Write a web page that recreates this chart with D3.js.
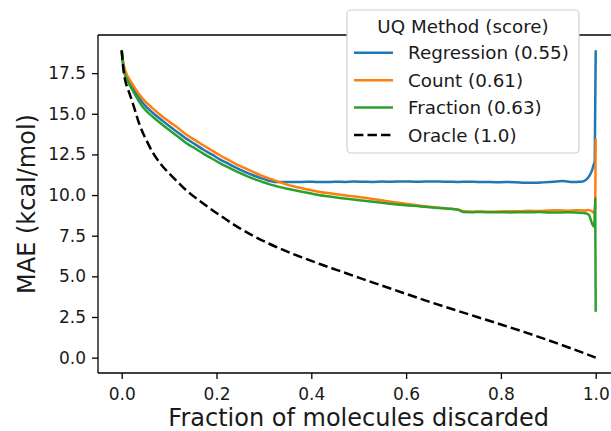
<!DOCTYPE html>
<html>
<head>
<meta charset="utf-8">
<script src="https://cdn.jsdelivr.net/npm/d3@7"></script>
<style>
  html, body { margin: 0; padding: 0; background: #fff; }
  svg { display: block; font-family: "DejaVu Sans", sans-serif; }
</style>
</head>
<body>
<svg id="chart" width="611" height="431"></svg>
<script>
// ---- data (fraction discarded, MAE kcal/mol) ----
const regressionX = [0,0.003,0.006,0.01,0.02,0.031,0.045,0.066,0.085,0.101,0.12,0.136,0.155,0.172,0.19,0.207,0.225,0.242,0.26,0.277,0.295,0.312,0.322,
  0.33,0.35,0.37,0.39,0.41,0.43,0.45,0.47,0.49,0.51,0.53,0.55,0.57,0.59,0.61,0.63,0.65,0.67,0.69,0.71,0.73,0.75,0.77,0.79,0.81,0.83,0.85,0.87,0.89,0.91,0.93,0.94,0.95,0.96,0.97,0.98,0.987,0.992,0.995,0.998,1.0];
const regressionY = [18.9,18.1,17.6,17.26,16.75,16.24,15.65,15.05,14.6,14.23,13.82,13.47,13.12,12.8,12.5,12.2,11.93,11.67,11.43,11.22,11.03,10.87,10.81,
  10.80,10.81,10.80,10.82,10.81,10.80,10.82,10.81,10.83,10.82,10.81,10.83,10.82,10.84,10.83,10.82,10.84,10.83,10.82,10.81,10.82,10.81,10.80,10.79,10.80,10.79,10.76,10.75,10.78,10.82,10.86,10.84,10.80,10.81,10.82,10.95,11.2,11.5,11.8,12.1,18.9];

const countX = [0,0.003,0.006,0.01,0.02,0.031,0.045,0.066,0.085,0.101,0.12,0.136,0.155,0.172,0.19,0.207,0.225,0.242,0.26,0.277,0.295,0.312,0.33,0.347,0.365,0.383,0.4,0.418,0.435,0.453,0.48,0.52,0.58,0.63,0.685,0.71,0.72,
  0.74,0.76,0.78,0.80,0.82,0.84,0.86,0.88,0.90,0.92,0.94,0.96,0.975,0.985,0.992,0.996,0.999,1.0];
const countY = [18.9,18.2,17.8,17.47,16.95,16.44,15.9,15.32,14.85,14.5,14.1,13.72,13.38,13.06,12.75,12.45,12.16,11.89,11.65,11.42,11.2,11.01,10.83,10.66,10.52,10.4,10.29,10.19,10.12,10.05,9.95,9.8,9.54,9.35,9.17,9.1,9.0,
  8.98,8.99,8.97,8.99,9.01,9.0,9.03,9.02,9.05,9.06,9.04,9.07,9.05,9.08,9.0,8.9,9.2,13.47];

const fractionX = [0,0.003,0.006,0.01,0.02,0.031,0.045,0.066,0.085,0.101,0.12,0.136,0.155,0.172,0.19,0.207,0.225,0.242,0.26,0.277,0.295,0.312,0.33,0.347,0.365,0.383,0.4,0.418,0.435,0.453,0.48,0.52,0.58,0.63,0.685,0.71,0.72,
  0.74,0.76,0.78,0.80,0.82,0.84,0.86,0.88,0.90,0.92,0.94,0.96,0.975,0.985,0.993,0.997,0.999,1.0];
const fractionY = [18.9,18.0,17.5,17.16,16.6,16.03,15.4,14.8,14.35,13.98,13.57,13.2,12.86,12.55,12.25,11.97,11.7,11.46,11.22,11.01,10.83,10.66,10.52,10.4,10.29,10.19,10.09,9.99,9.92,9.85,9.76,9.62,9.42,9.3,9.17,9.1,8.96,
  8.95,8.96,8.94,8.95,8.93,8.95,8.94,8.96,8.93,8.92,8.94,8.92,8.9,8.8,8.2,8.05,9.8,2.82];

const oracleX = [0,0.003,0.007,0.012,0.017,0.025,0.038,0.05,0.066,0.08,0.101,0.12,0.136,0.155,0.172,0.19,0.207,0.24,0.277,0.31,0.347,0.38,0.418,0.453,0.5,0.55,0.6,0.65,0.7,0.75,0.8,0.85,0.9,0.95,1.0];
const oracleY = [18.9,17.9,17.1,16.6,16.2,15.5,14.3,13.5,12.6,12.0,11.3,10.75,10.3,9.85,9.48,9.1,8.76,8.12,7.5,7.02,6.55,6.17,5.76,5.4,4.92,4.42,3.92,3.43,2.96,2.5,2.04,1.57,1.07,0.55,0.0];

const seriesNames = ["Regression (0.55)", "Count (0.61)", "Fraction (0.63)", "Oracle (1.0)"];
const seriesColors = ["#1f77b4", "#ff7f0e", "#2ca02c", "#000000"];
const xTicks = [0.0, 0.2, 0.4, 0.6, 0.8, 1.0];
const yTicks = [0.0, 2.5, 5.0, 7.5, 10.0, 12.5, 15.0, 17.5];
const legendTitle = "UQ Method (score)";
const xLabel = "Fraction of molecules discarded";
const yLabel = "MAE (kcal/mol)";

// ---- layout ----
const svg = d3.select("#chart");
const L = 98, T = 35, B = 373;
const x = d3.scaleLinear().domain([-0.05, 1.05]).range([L, L + 1.1 * 474]);
const y = d3.scaleLinear().domain([-0.945, 19.845]).range([B, T]);

const series = [
  {x: regressionX, y: regressionY, dash: null},
  {x: countX, y: countY, dash: null},
  {x: fractionX, y: fractionY, dash: null},
  {x: oracleX, y: oracleY, dash: "9.4,4.1"}
];

const line = d3.line().x(d => x(d[0])).y(d => y(d[1])).curve(d3.curveMonotoneX);
const plot = svg.append("g");
series.forEach((s, i) => {
  const pts = s.x.map((v, j) => [v, s.y[j]]);
  plot.append("path").datum(pts)
    .attr("d", line)
    .attr("fill", "none")
    .attr("stroke", seriesColors[i])
    .attr("stroke-width", 2.5)
    .attr("stroke-linejoin", "round")
    .attr("stroke-dasharray", s.dash);
});

// axes
const xAxis = svg.append("g").attr("transform", `translate(0,${B})`)
  .call(d3.axisBottom(x).tickValues(xTicks).tickFormat(d3.format(".1f")).tickSizeOuter(0).tickSize(6).tickPadding(5));
const yAxis = svg.append("g").attr("transform", `translate(${L},0)`)
  .call(d3.axisLeft(y).tickValues(yTicks).tickFormat(d3.format(".1f")).tickSizeOuter(0).tickSize(6).tickPadding(6));
[xAxis, yAxis].forEach(a => {
  a.select(".domain").remove();
  a.selectAll(".tick line").attr("stroke", "#000").attr("stroke-width", 1.3);
  a.selectAll(".tick text").attr("font-size", 17).attr("fill", "#1a1a1a").attr("font-family", "DejaVu Sans");
});
xAxis.selectAll(".tick text").attr("dy", "0.95em");

// spines (left, bottom, top; right is off-canvas)
const x1 = x.range()[1];
svg.append("line").attr("x1", L).attr("x2", L).attr("y1", T).attr("y2", B).attr("stroke", "#000").attr("stroke-width", 1.3);
svg.append("line").attr("x1", L).attr("x2", x1).attr("y1", B).attr("y2", B).attr("stroke", "#000").attr("stroke-width", 1.3);
svg.append("line").attr("x1", L).attr("x2", x1).attr("y1", T).attr("y2", T).attr("stroke", "#000").attr("stroke-width", 1.3);

// axis labels
svg.append("text").attr("x", (L + x1) / 2).attr("y", 426).attr("text-anchor", "middle")
  .attr("font-size", 24).attr("fill", "#1a1a1a").text(xLabel);
svg.append("text").attr("transform", `translate(35,${(T + B) / 2}) rotate(-90)`).attr("text-anchor", "middle")
  .attr("font-size", 24).attr("fill", "#1a1a1a").text(yLabel);

// legend
const lg = svg.append("g");
lg.append("rect").attr("x", 347).attr("y", 10).attr("width", 232).attr("height", 143).attr("rx", 4)
  .attr("fill", "#fff").attr("stroke", "#d0d0d0").attr("stroke-width", 1.2);
lg.append("text").attr("x", 463).attr("y", 32.7).attr("text-anchor", "middle").attr("font-size", 18.3)
  .attr("fill", "#1a1a1a").text(legendTitle);
seriesNames.forEach((name, i) => {
  const yy = 52.7 + i * 27.43;
  lg.append("line").attr("x1", 354).attr("x2", 393).attr("y1", yy).attr("y2", yy)
    .attr("stroke", seriesColors[i]).attr("stroke-width", 2.5)
    .attr("stroke-dasharray", series[i].dash);
  lg.append("text").attr("x", 408).attr("y", yy + 6.6).attr("font-size", 18.3)
    .attr("fill", "#1a1a1a").text(name);
});
</script>
</body>
</html>
